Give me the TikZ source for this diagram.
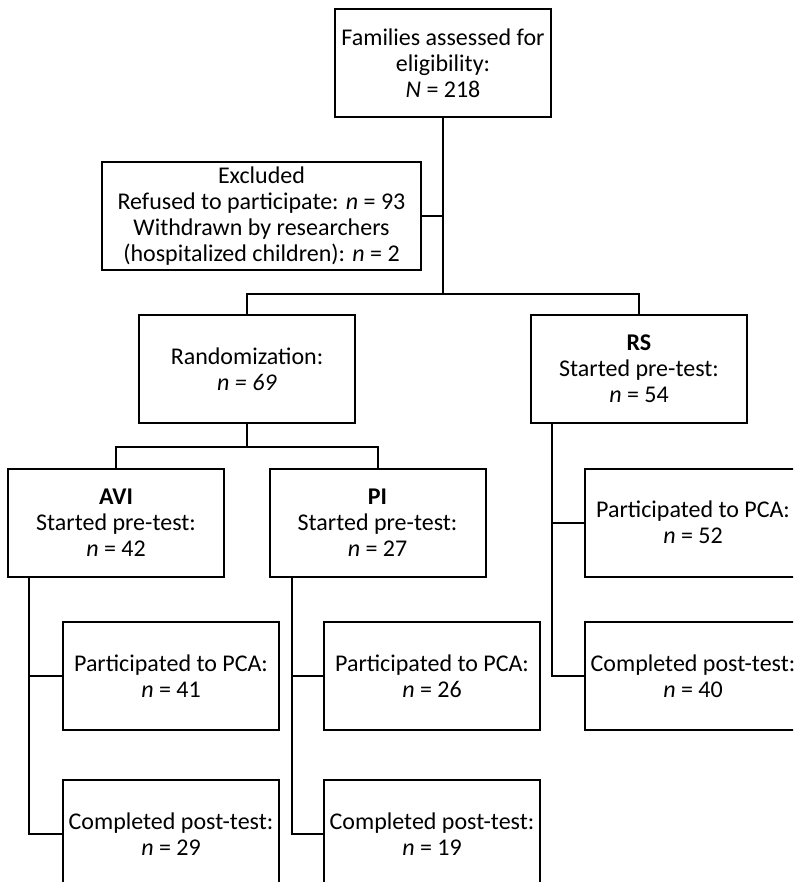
\documentclass[tikz,border=0pt]{standalone}
\usepackage{fontspec}
\setmainfont{Carlito}
\tikzset{box/.style={draw,line width=1pt,minimum width=108pt,minimum height=54pt,
		align=center,inner sep=2pt,font=\fontsize{12}{13}\selectfont},
	link/.style={line width=1pt}}
\begin{document}
\begin{tikzpicture}[line cap=rect,line join=miter,x=0.5pt,y=-0.5pt]
			\clip (0,0) rectangle (793,882); %khung hinh
			% Cac hop chinh
			\node[box] (fam) at (443,63) {Families assessed for\\eligibility:\\\textit{N} = 218};
			\node[box,minimum width=159.5pt] (excl) at (261.5,216) {Excluded\\Refused to participate: \textit{n} = 93\\Withdrawn by researchers\\(hospitalized children): \textit{n} = 2};
			\node[box] (rand) at (247,369) {Randomization:\\\textit{n = 69}};
			\node[box] (rs) at (639,369) {\textbf{RS}\\Started pre-test:\\\textit{n} = 54};
			\node[box] (avi) at (116,522.5) {\textbf{AVI}\\Started pre-test:\\\textit{n} = 42};
			\node[box] (pi) at (377.5,522.5) {\textbf{PI}\\Started pre-test:\\\textit{n} = 27};
			% Cac hop con
			\node[box] (avipca) at (171,676) {Participated to PCA:\\\textit{n} = 41};
			\node[box] (avicomp) at (171,834) {Completed post-test:\\\textit{n} = 29};
			\node[box] (pipca) at (432,676) {Participated to PCA:\\\textit{n} = 26};
			\node[box] (picomp) at (432,834) {Completed post-test:\\\textit{n} = 19};
			\node[box] (rspca) at (693,522.5) {Participated to PCA:\\\textit{n} = 52};
			\node[box] (rscomp) at (693,676) {Completed post-test:\\\textit{n} = 40};
			% Duong noi
			\draw[link] (fam.south) -- ++(0,176) coordinate (split1);
			\draw[link] (rand.north) |- (split1) -| (rs.north);
			\draw[link] (excl.east) -- (excl.east -| fam.south);
			\draw[link] (rand.south) -- ++(0,23) coordinate (split2);
			\draw[link] (avi.north) |- (split2) -| (pi.north);
			% Nhanh doc ben trai
			\draw[link] (avi.south west) ++(22,0) coordinate (aviL) |- (avicomp.west);
			\draw[link] (avipca.west) -- (avipca.west -| aviL);
			\draw[link] (pi.south west) ++(23,0) coordinate (piL) |- (picomp.west);
			\draw[link] (pipca.west) -- (pipca.west -| piL);
			\draw[link] (rs.south west) ++(22,0) coordinate (rsL) |- (rscomp.west);
			\draw[link] (rspca.west) -- (rspca.west -| rsL);
		\end{tikzpicture}
\end{document}
